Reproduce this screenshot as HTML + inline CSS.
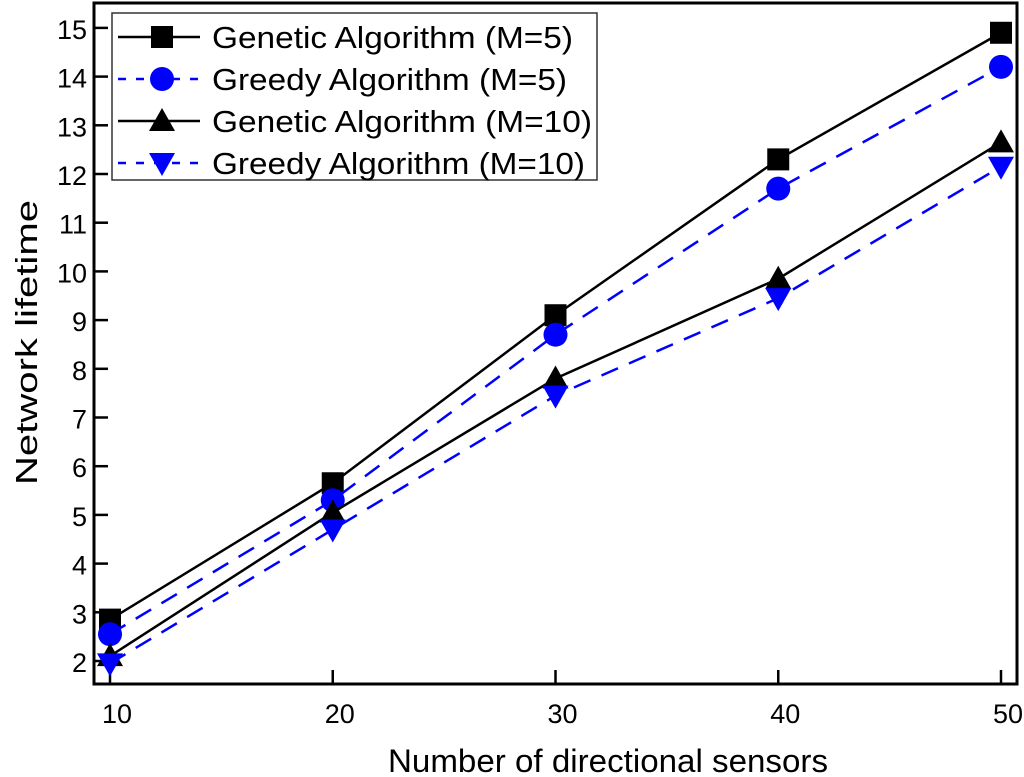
<!DOCTYPE html>
<html><head><meta charset="utf-8"><style>body{margin:0;background:#fff}svg{display:block}text{font-family:"Liberation Sans",sans-serif;fill:#000}</style></head>
<body>
<svg id="c" width="1024" height="777" xmlns="http://www.w3.org/2000/svg"></svg>
<script>
const categories=[10,20,30,40,50];
const geneticM5=[2.85,5.65,9.1,12.3,14.9];
const greedyM5=[2.55,5.3,8.7,11.7,14.2];
const geneticM10=[2.1,5.05,7.8,9.85,12.65];
const greedyM10=[1.95,4.7,7.45,9.45,12.15];
const yTicks=[2,3,4,5,6,7,8,9,10,11,12,13,14,15];
const seriesNames=["Genetic Algorithm  (M=5)","Greedy Algorithm (M=5)","Genetic Algorithm  (M=10)","Greedy Algorithm (M=10)"];
const NS="http://www.w3.org/2000/svg",svg=document.getElementById('c');
const X=v=>110+(v-10)*(1001-110)/40;
const Y=v=>661-(v-2)*48.7;
function mk(t,a,p){const e=document.createElementNS(NS,t);for(const k in a)e.setAttribute(k,a[k]);(p||svg).appendChild(e);return e;}
let e;
e=mk('rect',{x:94,y:3,width:923,height:681,fill:'none',stroke:'#000','stroke-width':3});


yTicks.forEach(v=>{
 e=mk('line',{x1:94,x2:108,y1:Y(v),y2:Y(v),stroke:'#000','stroke-width':2.5});
 
 
 e=mk('text',{x:87,y:Y(v)+11,'text-anchor':'end','font-size':27});e.textContent=v;
 
 
});
categories.forEach(v=>{
 e=mk('line',{x1:X(v),x2:X(v),y1:684,y2:670,stroke:'#000','stroke-width':2.5});
 
 
 e=mk('text',{x:X(v)+7,y:723,'text-anchor':'middle','font-size':27});e.textContent=v;
 
 
});
e=mk('text',{x:388,y:772,'font-size':32,textLength:440,lengthAdjust:'spacingAndGlyphs'});e.textContent='Number of directional sensors';


e=mk('text',{x:0,y:0,'font-size':31,textLength:285,lengthAdjust:'spacingAndGlyphs',transform:'translate(37,485) rotate(-90)'});e.textContent='Network lifetime';


function marker(kind,cx,cy,g){
 const col=(kind==='circle'||kind==='down')?'#0000ff':'#000';
 if(kind==='square')return mk('rect',{x:cx-11,y:cy-11,width:22,height:22,fill:col},g);
 if(kind==='circle')return mk('circle',{cx,cy,r:12,fill:col},g);
 if(kind==='up')return mk('polygon',{points:`${cx-13},${cy+10} ${cx+13},${cy+10} ${cx},${cy-13}`,fill:col},g);
 return mk('polygon',{points:`${cx-13},${cy-10} ${cx+13},${cy-10} ${cx},${cy+13}`,fill:col},g);
}
const series=[[geneticM5,'square',false,'series-genetic-m5'],[greedyM5,'circle',true,'series-greedy-m5'],[geneticM10,'up',false,'series-genetic-m10'],[greedyM10,'down',true,'series-greedy-m10']];
const legendLens=[361,355,380,373];
series.forEach(([d,k,dash,n])=>{
 const g=mk('g',{});
 
 
 e=mk('polyline',{points:d.map((v,i)=>X(categories[i])+','+Y(v)).join(' '),fill:'none',stroke:dash?'#0000ff':'#000','stroke-width':2.5,'stroke-dasharray':dash?'18,12':''},g);
 
 
 d.forEach((v,i)=>{e=marker(k,X(categories[i]),Y(v),g);
 
 });
});
const lg=mk('g',{});


e=mk('rect',{x:112,y:13,width:485,height:167,fill:'#fff',stroke:'#333','stroke-width':1.5},lg);


series.forEach(([d,k,dash,n],i)=>{
 const y=37+i*42;
 const g=mk('g',{},lg);
 
 
 mk('line',{x1:118,x2:200,y1:y,y2:y,stroke:dash?'#0000ff':'#000','stroke-width':2.5,'stroke-dasharray':dash?'8,10':''},g);
 marker(k,162,y,g);
 e=mk('text',{x:212,y:y+11,'font-size':31,textLength:legendLens[i],lengthAdjust:'spacingAndGlyphs'},g);e.textContent=seriesNames[i];
 
 
});
</script>
</body></html>
